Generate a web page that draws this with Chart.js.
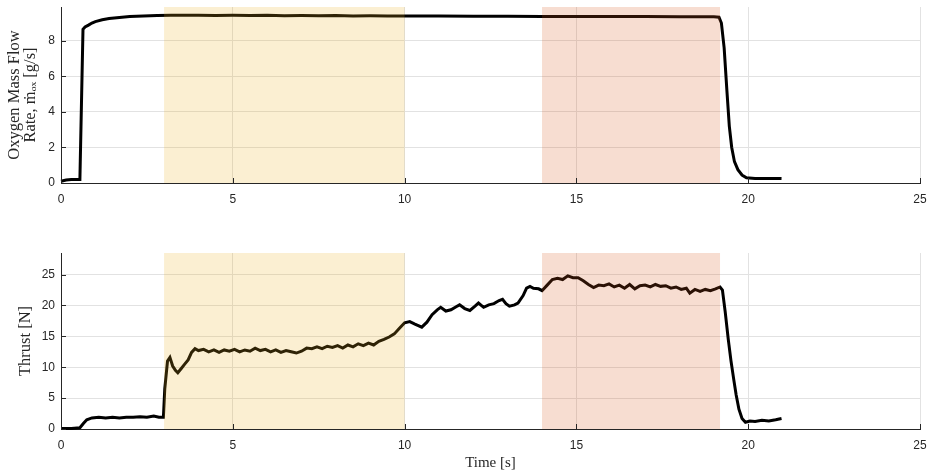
<!DOCTYPE html>
<html>
<head>
<meta charset="utf-8">
<script src="https://cdn.jsdelivr.net/npm/chart.js@4.4.1/dist/chart.umd.min.js"></script>
<style>
  html, body { margin: 0; padding: 0; background: #fff; }
  #wrap { position: relative; width: 930px; height: 475px; overflow: hidden; }
  #flowBox { position: absolute; left: 0; top: 0; }
  #thrustBox { position: absolute; left: 0; top: 240px; }
</style>
</head>
<body>
<div id="wrap">
  <div id="flowBox"><canvas id="flowPlot" width="930" height="215"></canvas></div>
  <div id="thrustBox"><canvas id="thrustPlot" width="930" height="235"></canvas></div>
</div>
<script>
// time axis
const timeTicks = [0, 5, 10, 15, 20, 25];
const timeMax = 25;

// burn windows shaded on both plots [start, end]
const yellowWindow = [3, 10];
const redWindow = [14, 19.18];

// oxygen mass flow rate [g/s]
const flowTime = [
  0, 0.15, 0.3, 0.45, 0.55, 0.64, 0.7, 0.8, 0.9, 1.0,
  1.2, 1.4, 1.7, 2.0, 2.4, 2.8, 3.2, 3.6, 4.0, 4.5,
  5.0, 5.5, 6.0, 6.5, 7.0, 7.5, 8.0, 8.5, 9.0, 9.5,
  10.0, 11.0, 12.0, 13.0, 14.0, 15.0, 16.0, 17.0, 18.0, 19.0,
  19.15, 19.22, 19.3, 19.38, 19.45, 19.52, 19.6, 19.7, 19.82, 19.95,
  20.2, 20.5, 20.8, 20.97
];
const flowValue = [
  0.1, 0.17, 0.19, 0.2, 0.2, 8.65, 8.78, 8.88, 9.0, 9.08,
  9.18, 9.25, 9.31, 9.36, 9.4, 9.42, 9.44, 9.43, 9.44, 9.42,
  9.43, 9.42, 9.43, 9.41, 9.42, 9.41, 9.42, 9.4, 9.41, 9.4,
  9.39, 9.39, 9.38, 9.38, 9.37, 9.37, 9.36, 9.36, 9.35, 9.35,
  9.33, 9.0, 7.6, 5.2, 3.2, 2.0, 1.2, 0.75, 0.45, 0.3,
  0.26, 0.25, 0.26, 0.25
];
const flowTicks = [0, 2, 4, 6, 8];
const flowMax = 9.9;

// thrust [N]
const thrustTime = [
  0, 0.3, 0.55, 0.65, 0.75, 0.9, 1.1, 1.3, 1.5, 1.7,
  1.9, 2.1, 2.3, 2.5, 2.7, 2.85, 2.98, 3.02, 3.1, 3.17,
  3.25, 3.33, 3.4, 3.5, 3.6, 3.7, 3.8, 3.9, 4.0, 4.15,
  4.3, 4.45, 4.6, 4.75, 4.9, 5.05, 5.2, 5.35, 5.5, 5.65,
  5.8, 5.95, 6.1, 6.25, 6.4, 6.55, 6.7, 6.85, 7.0, 7.15,
  7.3, 7.45, 7.6, 7.75, 7.9, 8.05, 8.2, 8.35, 8.5, 8.65,
  8.8, 8.95, 9.1, 9.25, 9.4, 9.55, 9.7, 9.85, 10.0, 10.15,
  10.3, 10.5, 10.65, 10.8, 10.95, 11.05, 11.2, 11.35, 11.5, 11.6,
  11.75, 11.9, 12.05, 12.15, 12.3, 12.45, 12.6, 12.75, 12.85, 12.95,
  13.05, 13.2, 13.3, 13.45, 13.55, 13.65, 13.75, 13.9, 14.0, 14.15,
  14.3, 14.45, 14.6, 14.75, 14.9, 15.05, 15.2, 15.35, 15.5, 15.65,
  15.8, 15.95, 16.1, 16.25, 16.4, 16.55, 16.7, 16.85, 17.0, 17.15,
  17.3, 17.45, 17.6, 17.75, 17.9, 18.05, 18.2, 18.3, 18.45, 18.6,
  18.75, 18.9, 19.05, 19.18, 19.25, 19.33, 19.42, 19.5, 19.58, 19.65,
  19.73, 19.82, 19.92, 20.05, 20.2, 20.4, 20.6, 20.8, 20.97
];
const thrustValue = [
  0.1, 0.1, 0.2, 0.9, 1.5, 1.8, 1.9, 1.8, 1.9, 1.8,
  1.9, 1.9, 2.0, 1.9, 2.1, 1.9, 1.9, 6.5, 11.0, 11.6,
  10.2, 9.5, 9.1, 9.8, 10.5, 11.2, 12.4, 13.0, 12.7, 12.9,
  12.5, 12.8, 12.4, 12.8, 12.6, 12.9, 12.5, 12.8, 12.6, 13.1,
  12.7, 12.9, 12.5, 12.8, 12.4, 12.7, 12.5, 12.3, 12.6, 13.1,
  13.0, 13.3, 13.0, 13.4, 13.2, 13.5, 13.1, 13.6, 13.3, 13.8,
  13.5, 13.9, 13.6, 14.2, 14.5, 14.9, 15.4, 16.3, 17.2, 17.4,
  17.0, 16.5, 17.3, 18.5, 19.3, 19.7, 19.1, 19.3, 19.8, 20.1,
  19.5, 19.2, 19.9, 20.4, 19.7, 20.1, 20.3, 20.8, 21.0, 20.3,
  19.9, 20.1, 20.4, 21.6, 22.8, 23.1, 22.8, 22.7, 22.4, 23.3,
  24.2, 24.4, 24.2, 24.8, 24.5, 24.5, 24.0, 23.4, 22.9, 23.3,
  23.2, 23.5, 23.0, 23.3, 22.8, 23.4, 22.7, 23.2, 23.3, 23.0,
  23.4, 23.1, 23.2, 22.8, 23.0, 22.6, 22.8, 22.0, 22.6, 22.3,
  22.6, 22.4, 22.7, 23.0, 22.5, 19.0, 14.5, 11.0, 8.0, 5.5,
  3.2, 1.7, 1.1, 1.3, 1.2, 1.4, 1.3, 1.5, 1.7
];
const thrustTicks = [0, 5, 10, 15, 20, 25];
const thrustMax = 28.5;

const axisColor = '#262626';
const gridColor = '#e2e2e2';
const tickFont = { family: '"Liberation Sans", Arial, sans-serif', size: 12 };
const labelFont = { family: '"Liberation Serif", "Times New Roman", serif', size: 16.5, lineHeight: 1.0 };
const timeFont = { family: '"Liberation Serif", "Times New Roman", serif', size: 15, lineHeight: 1.1 };

// shaded windows drawn over the line (transparent like matlab patches)
const windowShade = {
    id: 'windowShade',
    afterDatasetsDraw(chart) {
        const ctx = chart.ctx;
        const x = chart.scales.x;
        const area = chart.chartArea;
        const shades = [
            [yellowWindow, 'rgba(237, 177, 32, 0.2)'],
            [redWindow, 'rgba(217, 83, 25, 0.2)']
        ];
        ctx.save();
        shades.forEach(s => {
            const x0 = x.getPixelForValue(s[0][0]);
            const x1 = x.getPixelForValue(s[0][1]);
            ctx.fillStyle = s[1];
            ctx.fillRect(x0, area.top, x1 - x0, area.bottom - area.top);
        });
        ctx.restore();
    }
};

// matlab style ticks pointing inwards
const innerTicks = {
    id: 'innerTicks',
    afterDraw(chart) {
        const ctx = chart.ctx;
        const area = chart.chartArea;
        ctx.save();
        ctx.strokeStyle = axisColor;
        ctx.lineWidth = 1;
        ctx.beginPath();
        chart.scales.x.ticks.forEach(t => {
            const px = Math.round(chart.scales.x.getPixelForValue(t.value)) + 0.5;
            ctx.moveTo(px, area.bottom);
            ctx.lineTo(px, area.bottom - 5);
        });
        chart.scales.y.ticks.forEach(t => {
            const py = Math.round(chart.scales.y.getPixelForValue(t.value)) + 0.5;
            ctx.moveTo(area.left, py);
            ctx.lineTo(area.left + 5, py);
        });
        ctx.stroke();
        ctx.restore();
    }
};

function toPoints(xs, ys) {
    let pts = [];
    for (let i = 0; i < xs.length; i++) {
        pts.push({ x: xs[i], y: ys[i] });
    }
    return pts;
}

function makePlot(id, xs, ys, yTicks, yMax, yTitle, yTitlePad, xTitle, topPad, xBoxHeight) {
    return new Chart(id, {
        type: 'line',
        data: {
            datasets: [{
                data: toPoints(xs, ys),
                borderColor: '#000',
                borderWidth: 3,
                pointRadius: 0,
                tension: 0,
                clip: false
            }]
        },
        options: {
            responsive: false,
            animation: false,
            devicePixelRatio: 1,
            layout: { padding: { top: topPad, right: 10, left: 0, bottom: 0 } },
            plugins: { legend: { display: false }, tooltip: { enabled: false } },
            scales: {
                x: {
                    type: 'linear',
                    min: 0,
                    max: timeMax,
                    afterBuildTicks: s => { s.ticks = timeTicks.map(v => ({ value: v })); },
                    afterFit: s => { s.height = xBoxHeight; s.paddingLeft = 0; s.paddingRight = 0; },
                    grid: { color: gridColor, drawTicks: false },
                    border: { color: axisColor, width: 1 },
                    ticks: { color: axisColor, font: tickFont, padding: 9, maxRotation: 0 },
                    title: xTitle ? { display: true, text: xTitle, color: axisColor, font: timeFont, padding: { top: 0, bottom: 4 } } : { display: false }
                },
                y: {
                    min: 0,
                    max: yMax,
                    afterBuildTicks: s => { s.ticks = yTicks.map(v => ({ value: v })); },
                    afterFit: s => { s.width = 61; s.paddingTop = 0; s.paddingBottom = 0; },
                    grid: { color: gridColor, drawTicks: false },
                    border: { color: axisColor, width: 1 },
                    ticks: { color: axisColor, font: tickFont, padding: 6 },
                    title: { display: true, text: yTitle, color: axisColor, font: labelFont, padding: { top: yTitlePad, bottom: 0 } }
                }
            }
        },
        plugins: [windowShade, innerTicks]
    });
}

const flowPlot = makePlot('flowPlot', flowTime, flowValue, flowTicks, flowMax,
    ['Oxygen Mass Flow', 'Rate, \u1E41\u2092\u2093 [g/s]'], 6, null, 7, 32);

const thrustPlot = makePlot('thrustPlot', thrustTime, thrustValue, thrustTicks, thrustMax,
    'Thrust [N]', 17, 'Time [s]', 13, 46);
</script>
</body>
</html>
